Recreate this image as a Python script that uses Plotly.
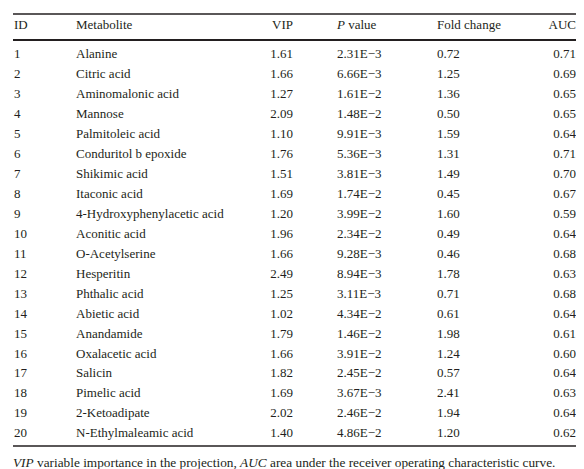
import plotly.graph_objects as go

ids = list(range(1, 21))
metabolites = ["Alanine", "Citric acid", "Aminomalonic acid", "Mannose", "Palmitoleic acid",
               "Conduritol b epoxide", "Shikimic acid", "Itaconic acid", "4-Hydroxyphenylacetic acid",
               "Aconitic acid", "O-Acetylserine", "Hesperitin", "Phthalic acid", "Abietic acid",
               "Anandamide", "Oxalacetic acid", "Salicin", "Pimelic acid", "2-Ketoadipate",
               "N-Ethylmaleamic acid"]
vip = ["1.61", "1.66", "1.27", "2.09", "1.10", "1.76", "1.51", "1.69", "1.20", "1.96",
       "1.66", "2.49", "1.25", "1.02", "1.79", "1.66", "1.82", "1.69", "2.02", "1.40"]
p_value = ["2.31E\u22123", "6.66E\u22123", "1.61E\u22122", "1.48E\u22122", "9.91E\u22123",
           "5.36E\u22123", "3.81E\u22123", "1.74E\u22122", "3.99E\u22122", "2.34E\u22122",
           "9.28E\u22123", "8.94E\u22123", "3.11E\u22123", "4.34E\u22122", "1.46E\u22122",
           "3.91E\u22122", "2.45E\u22122", "3.67E\u22123", "2.46E\u22122", "4.86E\u22122"]
fold_change = ["0.72", "1.25", "1.36", "0.50", "1.59", "1.31", "1.49", "0.45", "1.60", "0.49",
               "0.46", "1.78", "0.71", "0.61", "1.98", "1.24", "0.57", "2.41", "1.94", "1.20"]
auc = ["0.71", "0.69", "0.65", "0.65", "0.64", "0.71", "0.70", "0.67", "0.59", "0.64",
       "0.68", "0.63", "0.68", "0.64", "0.61", "0.60", "0.64", "0.63", "0.64", "0.62"]
headers = ["ID", "Metabolite", "VIP", "<i>P</i> value", "Fold change", "AUC"]
footnote = ("<i>VIP</i> variable importance in the projection, <i>AUC</i> area under the "
            "receiver operating characteristic curve.")

# page body has an 8px margin: the figure sits at (8, 8) in the window
OFF = 8
WIN_W, WIN_H = 584, 469
W, H = WIN_W - OFF, WIN_H - OFF
FONT = "Liberation Serif, Times New Roman, serif"
FS = 13
COLOR = "#231f20"

# column anchors (window pixels) and alignment
col_x = [14, 76, 293, 337, 437, 576]
col_pos = ["middle right", "middle right", "middle left", "middle right", "middle right", "middle left"]
columns = [[str(i) for i in ids], metabolites, vip, p_value, fold_change, auc]

# row geometry: row r centre pixel = ROW1 + STEP*(r-1)  (window pixels)
ROW1, STEP = 55.0, 19.95
def px_to_row(p):
    return 1 + (p - ROW1) / STEP

header_row = px_to_row(26)

fig = go.Figure()

# horizontal rules (top, under header, bottom), drawn as line traces
rule_rows = [px_to_row(14), px_to_row(40), px_to_row(446)]
rule_widths = [1.4, 1.8, 1.3]
for r, lw in zip(rule_rows, rule_widths):
    fig.add_trace(go.Scatter(x=[13, 577], y=[r, r], mode="lines",
                             line=dict(color=COLOR, width=lw), hoverinfo="skip", showlegend=False))

for cx, pos, vals in zip(col_x, col_pos, columns):
    fig.add_trace(go.Scatter(
        x=[cx] * len(vals), y=ids, text=vals, mode="text", textposition=pos,
        textfont=dict(family=FONT, size=FS, color=COLOR), hoverinfo="skip", showlegend=False))
fig.add_trace(go.Scatter(
    x=col_x, y=[header_row] * len(headers), text=headers, mode="text",
    textposition=col_pos,
    textfont=dict(family=FONT, size=FS, color=COLOR), hoverinfo="skip", showlegend=False))

def py(p):
    return 1 - (p - OFF) / H

def pxf(p):
    return (p - OFF) / W

fig.add_annotation(text=footnote, xref="paper", yref="paper", x=pxf(11), y=py(462),
                   xanchor="left", yanchor="middle", showarrow=False,
                   font=dict(family=FONT, size=13.3, color=COLOR))

fig.update_layout(
    width=W, height=H, margin=dict(l=0, r=0, t=0, b=0),
    paper_bgcolor="white", plot_bgcolor="white",
    xaxis=dict(range=[OFF, WIN_W], visible=False, fixedrange=True),
    yaxis=dict(range=[px_to_row(WIN_H), px_to_row(OFF)], visible=False, fixedrange=True),
)
fig.write_html("out.html", config={"displayModeBar": False})
